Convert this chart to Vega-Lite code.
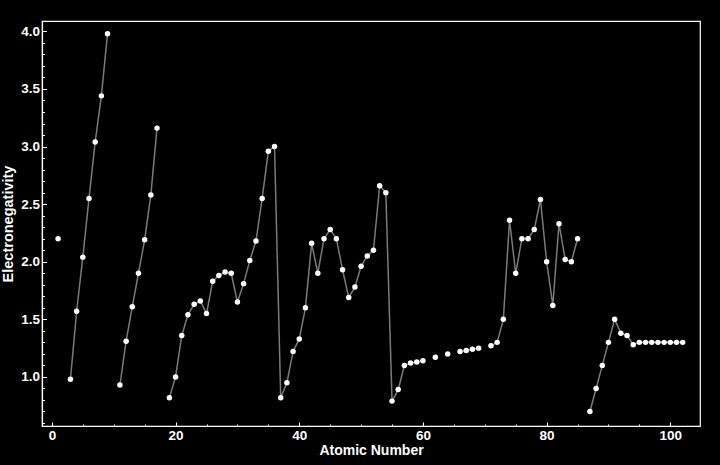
{
  "$schema": "https://vega.github.io/schema/vega-lite/v6.json",
  "autosize": "none",
  "width": 658,
  "height": 405,
  "padding": {"left": 42, "top": 21, "right": 20, "bottom": 39},
  "background": "black",
  "config": {
    "view": {"stroke": "white", "strokeWidth": 1.2},
    "axis": {"domainColor": "white", "tickColor": "white", "labelColor": "white", "titleColor": "white", "grid": false, "labelFont": "Liberation Sans", "titleFont": "Liberation Sans", "labelFontWeight": "bold", "titleFontWeight": "bold", "labelFontSize": 13.5, "titleFontSize": 14, "domainWidth": 1.2}
  },
  "data": {"values": [
    {"z":1,"en":2.2},{"z":2,"en":null},{"z":3,"en":0.98},{"z":4,"en":1.57},{"z":5,"en":2.04},{"z":6,"en":2.55},{"z":7,"en":3.04},{"z":8,"en":3.44},{"z":9,"en":3.98},{"z":10,"en":null},
    {"z":11,"en":0.93},{"z":12,"en":1.31},{"z":13,"en":1.61},{"z":14,"en":1.9},{"z":15,"en":2.19},{"z":16,"en":2.58},{"z":17,"en":3.16},{"z":18,"en":null},
    {"z":19,"en":0.82},{"z":20,"en":1.0},{"z":21,"en":1.36},{"z":22,"en":1.54},{"z":23,"en":1.63},{"z":24,"en":1.66},{"z":25,"en":1.55},{"z":26,"en":1.83},{"z":27,"en":1.88},{"z":28,"en":1.91},{"z":29,"en":1.9},{"z":30,"en":1.65},
    {"z":31,"en":1.81},{"z":32,"en":2.01},{"z":33,"en":2.18},{"z":34,"en":2.55},{"z":35,"en":2.96},{"z":36,"en":3.0},
    {"z":37,"en":0.82},{"z":38,"en":0.95},{"z":39,"en":1.22},{"z":40,"en":1.33},{"z":41,"en":1.6},{"z":42,"en":2.16},{"z":43,"en":1.9},{"z":44,"en":2.2},{"z":45,"en":2.28},{"z":46,"en":2.2},{"z":47,"en":1.93},{"z":48,"en":1.69},
    {"z":49,"en":1.78},{"z":50,"en":1.96},{"z":51,"en":2.05},{"z":52,"en":2.1},{"z":53,"en":2.66},{"z":54,"en":2.6},
    {"z":55,"en":0.79},{"z":56,"en":0.89},{"z":57,"en":1.1},{"z":58,"en":1.12},{"z":59,"en":1.13},{"z":60,"en":1.14},{"z":61,"en":null},{"z":62,"en":1.17},{"z":63,"en":null},{"z":64,"en":1.2},{"z":65,"en":null},{"z":66,"en":1.22},{"z":67,"en":1.23},{"z":68,"en":1.24},{"z":69,"en":1.25},{"z":70,"en":null},{"z":71,"en":1.27},
    {"z":72,"en":1.3},{"z":73,"en":1.5},{"z":74,"en":2.36},{"z":75,"en":1.9},{"z":76,"en":2.2},{"z":77,"en":2.2},{"z":78,"en":2.28},{"z":79,"en":2.54},{"z":80,"en":2.0},{"z":81,"en":1.62},{"z":82,"en":2.33},{"z":83,"en":2.02},{"z":84,"en":2.0},{"z":85,"en":2.2},{"z":86,"en":null},
    {"z":87,"en":0.7},{"z":88,"en":0.9},{"z":89,"en":1.1},{"z":90,"en":1.3},{"z":91,"en":1.5},{"z":92,"en":1.38},{"z":93,"en":1.36},{"z":94,"en":1.28},{"z":95,"en":1.3},{"z":96,"en":1.3},{"z":97,"en":1.3},{"z":98,"en":1.3},{"z":99,"en":1.3},{"z":100,"en":1.3},{"z":101,"en":1.3},{"z":102,"en":1.3}
  ]},
  "layer": [
    {
      "mark": {"type": "line", "color": "#7a7a7a", "strokeWidth": 1.5},
      "encoding": {
        "x": {"field": "z", "type": "quantitative", "scale": {"domain": [-1.6, 104.8], "nice": false, "zero": false},
          "axis": {"orient": "bottom", "title": "Atomic Number", "values": [0, 20, 40, 60, 80, 100], "tickSize": -4, "labelPadding": 6, "titlePadding": 2}},
        "y": {"field": "en", "type": "quantitative", "scale": {"domain": [0.574, 4.09], "nice": false, "zero": false},
          "axis": {"orient": "left", "title": "Electronegativity", "titleFontSize": 14.5, "values": [1.0, 1.5, 2.0, 2.5, 3.0, 3.5, 4.0], "format": ".1f", "tickSize": -4.5, "labelPadding": 7, "titlePadding": 5}}
      }
    },
    {
      "mark": {"type": "circle", "color": "white", "opacity": 1, "size": 30},
      "encoding": {
        "x": {"field": "z", "type": "quantitative",
          "axis": {"orient": "bottom", "title": null, "labels": false, "domain": false, "values": [5, 10, 15, 25, 30, 35, 45, 50, 55, 65, 70, 75, 85, 90, 95], "tickSize": -2}},
        "y": {"field": "en", "type": "quantitative",
          "axis": {"orient": "left", "title": null, "labels": false, "domain": false, "values": [0.6, 0.7, 0.8, 0.9, 1.1, 1.2, 1.3, 1.4, 1.6, 1.7, 1.8, 1.9, 2.1, 2.2, 2.3, 2.4, 2.6, 2.7, 2.8, 2.9, 3.1, 3.2, 3.3, 3.4, 3.6, 3.7, 3.8, 3.9], "tickSize": -2.5}}
      }
    }
  ],
  "resolve": {"axis": {"x": "independent", "y": "independent"}}
}
